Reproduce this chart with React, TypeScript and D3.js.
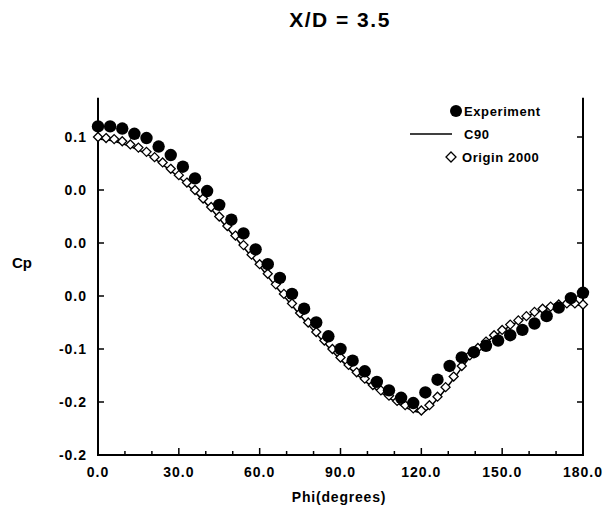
import React from "react";
import * as d3 from "d3";

const title = "X/D = 3.5";
const xLabel = "Phi(degrees)";
const yLabel = "Cp";

const xTickValues = [0, 30, 60, 90, 120, 150, 180];
const xTickLabels = ["0.0", "30.0", "60.0", "90.0", "120.0", "150.0", "180.0"];
const xMinorTicks = [10, 20, 40, 50, 70, 80, 100, 110, 130, 140, 160, 170];
const yTickValues = [0.1, 0.05, 0.0, -0.05, -0.1, -0.15, -0.2];
const yTickLabels = ["0.1", "0.0", "0.0", "0.0", "-0.1", "-0.2", "-0.2"];

// Experiment (filled circles), phi every 4.5 deg
const expPhi = [
  0, 4.5, 9, 13.5, 18, 22.5, 27, 31.5, 36, 40.5, 45, 49.5, 54, 58.5, 63, 67.5, 72, 76.5, 81, 85.5,
  90, 94.5, 99, 103.5, 108, 112.5, 117, 121.5, 126, 130.5, 135, 139.5, 144, 148.5, 153, 157.5, 162,
  166.5, 171, 175.5, 180,
];
const expCp = [
  0.11, 0.11, 0.108, 0.103, 0.099, 0.091, 0.083, 0.072, 0.061, 0.049, 0.036, 0.022, 0.009, -0.006,
  -0.02, -0.033, -0.048, -0.062, -0.075, -0.088, -0.1, -0.111, -0.121, -0.131, -0.139, -0.146,
  -0.151, -0.141, -0.129, -0.116, -0.108, -0.103, -0.097, -0.092, -0.087, -0.082, -0.076, -0.069,
  -0.061, -0.052, -0.047,
];

// Origin 2000 (open diamonds), phi every 3 deg
const orgPhi = [
  0, 3, 6, 9, 12, 15, 18, 21, 24, 27, 30, 33, 36, 39, 42, 45, 48, 51, 54, 57, 60, 63, 66, 69, 72, 75,
  78, 81, 84, 87, 90, 93, 96, 99, 102, 105, 108, 111, 114, 117, 120, 123, 126, 129, 132, 135, 138,
  141, 144, 147, 150, 153, 156, 159, 162, 165, 168, 171, 174, 177, 180,
];
const orgCp = [
  0.1, 0.099, 0.098, 0.096, 0.093, 0.09, 0.086, 0.081, 0.076, 0.07, 0.064, 0.057, 0.05, 0.042,
  0.034, 0.025, 0.016, 0.007, -0.002, -0.011, -0.02, -0.029, -0.039, -0.048, -0.057, -0.066, -0.075,
  -0.084, -0.092, -0.1, -0.108, -0.115, -0.122, -0.128, -0.134, -0.139, -0.144, -0.149, -0.153,
  -0.156, -0.158, -0.153, -0.145, -0.136, -0.126, -0.116, -0.106, -0.099, -0.093, -0.087, -0.082,
  -0.077, -0.073, -0.069, -0.065, -0.062, -0.06, -0.058, -0.057, -0.057, -0.058,
];

// C90 (solid line)
const c90Phi = [
  0, 6, 12, 18, 24, 30, 36, 42, 48, 54, 60, 66, 72, 78, 84, 90, 96, 102, 108, 114, 120, 126, 132,
  138, 144, 150, 156, 162, 168, 174, 180,
];
const c90Cp = [
  0.098, 0.096, 0.091, 0.084, 0.074, 0.062, 0.048, 0.032, 0.014, -0.004, -0.022, -0.041, -0.059,
  -0.077, -0.094, -0.11, -0.124, -0.136, -0.146, -0.155, -0.16, -0.147, -0.128, -0.108, -0.094,
  -0.083, -0.074, -0.066, -0.061, -0.058, -0.059,
];

const legendItems = ["Experiment", "C90", "Origin 2000"];

const W = 608;
const H = 505;
const FONT = "'Liberation Sans', Arial, Helvetica, sans-serif";

export default function App() {
  const x = d3.scaleLinear().domain([0, 180]).range([98, 583]);
  const y = d3.scaleLinear().domain([-0.2, 0.1]).range([455, 137]);
  const yTop = y(0.137);

  const line = d3
    .line<number>()
    .x((_, i) => x(c90Phi[i]))
    .y((d) => y(d))
    .curve(d3.curveMonotoneX);

  const diamond = (cx: number, cy: number, r: number) =>
    `M${cx},${cy - r}L${cx + r},${cy}L${cx},${cy + r}L${cx - r},${cy}Z`;

  const lx = 456;
  const ly = 111;
  const lStep = 23;

  return (
    <svg
      width={W}
      height={H}
      style={{ position: "absolute", left: 0, top: 0, background: "#fff" }}
      fontFamily={FONT}
    >
      <rect x={0} y={0} width={W} height={H} fill="#fff" />
      <text
        x={340}
        y={27}
        textAnchor="middle"
        fontSize={21}
        fontWeight="bold"
        letterSpacing={1.5}
      >
        {title}
      </text>

      {/* axes */}
      <line x1={x(0)} y1={yTop} x2={x(0)} y2={y(-0.2)} stroke="#000" strokeWidth={2} />
      <line x1={x(180)} y1={yTop} x2={x(180)} y2={y(-0.2)} stroke="#000" strokeWidth={2} />
      <line x1={x(0) - 1} y1={y(-0.2)} x2={x(180) + 1} y2={y(-0.2)} stroke="#000" strokeWidth={2} />

      {yTickValues.map((v, i) => (
        <g key={"yt" + i}>
          <line x1={x(0)} y1={y(v)} x2={x(0) + 6} y2={y(v)} stroke="#000" strokeWidth={1.5} />
          <line x1={x(180)} y1={y(v)} x2={x(180) - 6} y2={y(v)} stroke="#000" strokeWidth={1.5} />
          <text
            x={87}
            y={y(v)}
            dy="0.35em"
            textAnchor="end"
            fontSize={14}
            fontWeight="bold"
            letterSpacing={1}
          >
            {yTickLabels[i]}
          </text>
        </g>
      ))}

      {xTickValues.map((v, i) => (
        <g key={"xt" + i}>
          <line x1={x(v)} y1={y(-0.2)} x2={x(v)} y2={y(-0.2) - 7} stroke="#000" strokeWidth={1.5} />
          <text
            x={x(v)}
            y={477}
            textAnchor="middle"
            fontSize={14}
            fontWeight="bold"
            letterSpacing={1}
          >
            {xTickLabels[i]}
          </text>
        </g>
      ))}
      {xMinorTicks.map((v, i) => (
        <line
          key={"xm" + i}
          x1={x(v)}
          y1={y(-0.2)}
          x2={x(v)}
          y2={y(-0.2) - 4}
          stroke="#000"
          strokeWidth={1.5}
        />
      ))}

      <text x={12} y={268} fontSize={15} fontWeight="bold">
        {yLabel}
      </text>
      <text
        x={339}
        y={502}
        textAnchor="middle"
        fontSize={14}
        fontWeight="bold"
        letterSpacing={0.8}
      >
        {xLabel}
      </text>

      {/* data */}
      <path d={line(c90Cp) || ""} fill="none" stroke="#000" strokeWidth={1.5} />
      {orgCp.map((v, i) => (
        <path
          key={"o" + i}
          d={diamond(x(orgPhi[i]), y(v), 4.5)}
          fill="#fff"
          stroke="#000"
          strokeWidth={1.3}
        />
      ))}
      {expCp.map((v, i) => (
        <circle key={"e" + i} cx={x(expPhi[i])} cy={y(v)} r={6.2} fill="#000" />
      ))}

      {/* legend */}
      <circle cx={lx} cy={ly} r={6} fill="#000" />
      <text x={lx + 8} y={ly} dy="0.35em" fontSize={13} fontWeight="bold" letterSpacing={0.6}>
        {legendItems[0]}
      </text>
      <line x1={410} y1={ly + lStep} x2={452} y2={ly + lStep} stroke="#000" strokeWidth={1.5} />
      <text x={lx + 8} y={ly + lStep} dy="0.35em" fontSize={13} fontWeight="bold" letterSpacing={0.6}>
        {legendItems[1]}
      </text>
      <path d={diamond(451, ly + 2 * lStep, 5)} fill="#fff" stroke="#000" strokeWidth={1.3} />
      <text
        x={lx + 6}
        y={ly + 2 * lStep}
        dy="0.35em"
        fontSize={13}
        fontWeight="bold"
        letterSpacing={0.6}
      >
        {legendItems[2]}
      </text>
    </svg>
  );
}
